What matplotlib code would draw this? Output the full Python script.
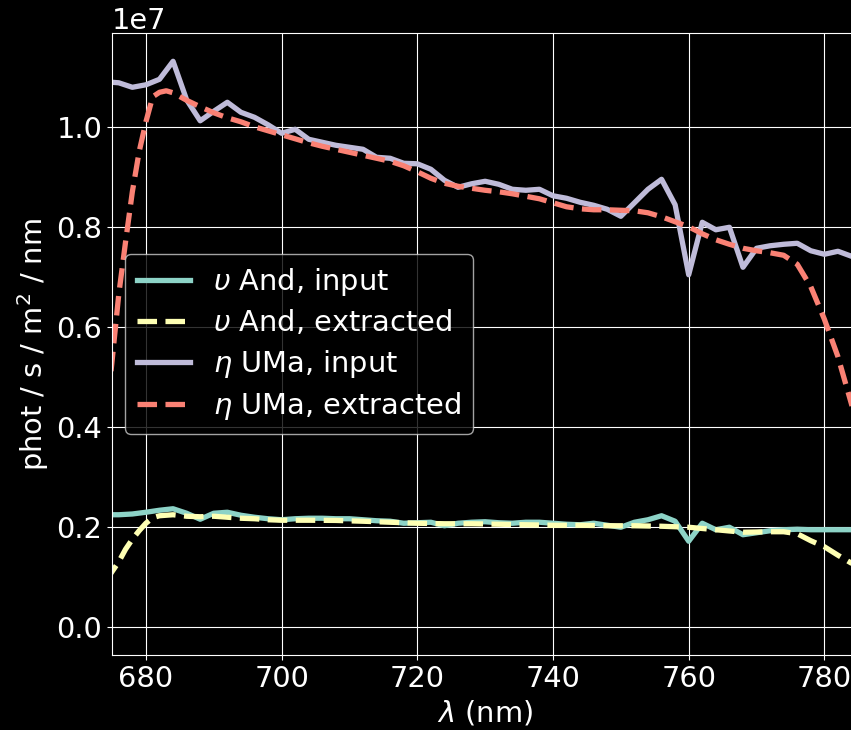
"""
Input vs extracted spectra for two stars (upsilon And, eta UMa).
"""

import matplotlib
matplotlib.use("Agg")
import matplotlib.pyplot as plt

# ---- data (flux in units of 1e7 phot / s / m^2 / nm) ----
wl_ups_in = [674, 676, 678, 680, 682, 684, 686, 688, 690, 692, 694, 696, 698,
             700, 702, 704, 706, 708, 710, 712, 714, 716, 718, 720, 722, 724,
             726, 728, 730, 732, 734, 736, 738, 740, 742, 744, 746, 748, 750,
             752, 754, 756, 758, 760, 762, 764, 766, 768, 770, 772, 774, 776,
             778, 780, 782, 784, 786]
flux_ups_in = [0.224, 0.224, 0.2255, 0.229, 0.233, 0.236, 0.227, 0.215, 0.227,
               0.229, 0.223, 0.219, 0.216, 0.214, 0.216, 0.217, 0.217, 0.216,
               0.216, 0.214, 0.212, 0.211, 0.207, 0.208, 0.209, 0.202, 0.207,
               0.209, 0.210, 0.208, 0.207, 0.209, 0.209, 0.207, 0.205, 0.204,
               0.207, 0.203, 0.199, 0.209, 0.214, 0.222, 0.211, 0.171, 0.207,
               0.194, 0.199, 0.184, 0.188, 0.192, 0.194, 0.195, 0.194, 0.194,
               0.194, 0.194, 0.194]

wl_ups_ex = [674, 675, 676, 677, 678, 679, 680, 681, 682, 684, 686, 688, 690,
             692, 694, 696, 698, 700, 704, 708, 712, 716, 720, 724, 728, 732,
             736, 740, 744, 748, 752, 756, 760, 764, 768, 772, 774, 776, 778,
             780, 782, 784, 786]
flux_ups_ex = [0.09, 0.11, 0.13, 0.155, 0.175, 0.192, 0.207, 0.218, 0.222,
               0.224, 0.221, 0.220, 0.221, 0.219, 0.217, 0.216, 0.214, 0.213,
               0.213, 0.2126, 0.211, 0.209, 0.207, 0.206, 0.206, 0.205, 0.204,
               0.203, 0.203, 0.202, 0.202, 0.201, 0.199, 0.194, 0.189, 0.190,
               0.190, 0.186, 0.172, 0.160, 0.143, 0.127, 0.110]

wl_eta_in = [674, 676, 678, 680, 682, 684, 686, 688, 690, 692, 694, 696, 698,
             700, 702, 704, 706, 708, 710, 712, 714, 716, 718, 720, 722, 724,
             726, 728, 730, 732, 734, 736, 738, 740, 742, 744, 746, 748, 750,
             752, 754, 756, 758, 760, 762, 764, 766, 768, 770, 772, 774, 776,
             778, 780, 782, 784, 786]
flux_eta_in = [1.090, 1.088, 1.079, 1.084, 1.095, 1.131, 1.054, 1.012, 1.031,
               1.049, 1.029, 1.019, 1.004, 0.987, 0.995, 0.975, 0.969, 0.963,
               0.959, 0.955, 0.939, 0.937, 0.927, 0.926, 0.915, 0.893, 0.879,
               0.886, 0.891, 0.885, 0.875, 0.873, 0.875, 0.862, 0.857, 0.849,
               0.843, 0.835, 0.821, 0.848, 0.875, 0.895, 0.844, 0.704, 0.809,
               0.794, 0.799, 0.719, 0.757, 0.762, 0.765, 0.767, 0.752, 0.745,
               0.751, 0.741, 0.730]

wl_eta_ex = [674, 675, 676, 677, 678, 679, 680, 681, 682, 683, 684, 686, 688,
             690, 692, 694, 696, 698, 700, 702, 704, 706, 708, 710, 712, 714,
             716, 718, 720, 722, 724, 726, 728, 730, 732, 734, 736, 738, 740,
             742, 744, 746, 748, 750, 752, 754, 756, 758, 760, 762, 764, 766,
             768, 770, 772, 774, 776, 778, 780, 782, 784, 786]
flux_eta_ex = [0.40, 0.53, 0.665, 0.77, 0.87, 0.95, 1.01, 1.06, 1.069, 1.072,
               1.068, 1.053, 1.040, 1.028, 1.018, 1.010, 1.000, 0.992, 0.984,
               0.976, 0.968, 0.961, 0.955, 0.949, 0.943, 0.937, 0.931, 0.922,
               0.910, 0.897, 0.887, 0.881, 0.877, 0.873, 0.870, 0.866, 0.861,
               0.856, 0.848, 0.840, 0.836, 0.834, 0.834, 0.833, 0.832, 0.828,
               0.820, 0.810, 0.800, 0.786, 0.774, 0.765, 0.757, 0.752, 0.748,
               0.743, 0.725, 0.680, 0.615, 0.540, 0.445, 0.350]

LABELS = [r"$\upsilon$ And, input", r"$\upsilon$ And, extracted",
          r"$\eta$ UMa, input", r"$\eta$ UMa, extracted"]


def main():
    plt.style.use("dark_background")
    plt.rcParams["font.size"] = 20.8

    fig = plt.figure(figsize=(8.51, 7.30), dpi=100)
    ax = fig.add_axes([0.1316, 0.1027, 0.877, 0.8521])

    lw = 3.8
    scale = 1e7
    ax.plot(wl_ups_in, [v * scale for v in flux_ups_in], lw=lw, label=LABELS[0])
    ax.plot(wl_ups_ex, [v * scale for v in flux_ups_ex], lw=lw, ls="--", label=LABELS[1])
    ax.plot(wl_eta_in, [v * scale for v in flux_eta_in], lw=lw, label=LABELS[2])
    ax.plot(wl_eta_ex, [v * scale for v in flux_eta_ex], lw=lw, ls="--", label=LABELS[3])

    ax.set_xlim(675, 785)
    ax.set_ylim(-0.0566e7, 1.1876e7)
    ax.set_xlabel(r"$\lambda$ (nm)")
    ax.set_ylabel(r"phot / s / m$^2$ / nm")
    ax.grid(True)
    ax.legend(loc="center left", labelspacing=0.36, borderaxespad=0.45,
              handlelength=1.85)

    fig.savefig("out.png", dpi=100)


if __name__ == "__main__":
    main()
